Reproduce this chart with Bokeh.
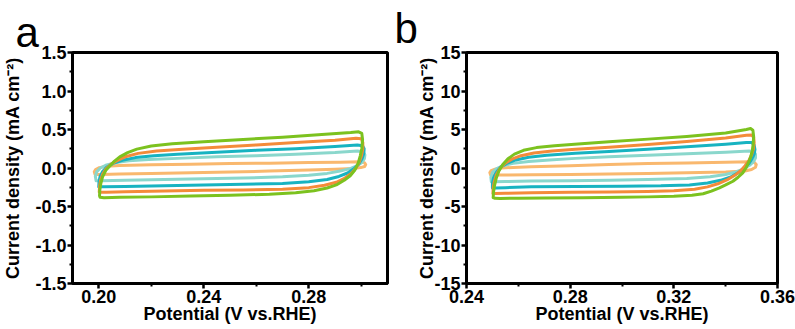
from bokeh.plotting import figure
from bokeh.layouts import row
from bokeh.models import FixedTicker, PrintfTickFormatter
from bokeh.embed import file_html
from bokeh.resources import INLINE

# ---------------- data: panel a ----------------
a_x_ticks = [0.20, 0.24, 0.28]
a_x_minor = [0.22, 0.26, 0.30]
a_y_ticks = [-1.5, -1.0, -0.5, 0.0, 0.5, 1.0, 1.5]
a_y_minor = [-1.25, -0.75, -0.25, 0.25, 0.75, 1.25]

a1_x = [0.1986, 0.1983, 0.1988, 0.2002, 0.2030, 0.2080, 0.2200, 0.2350, 0.2500, 0.2650, 0.2800, 0.2920, 0.2995, 0.3012,
        0.3017, 0.3013, 0.2998, 0.2970, 0.2900, 0.2800, 0.2650, 0.2500, 0.2350, 0.2200, 0.2080, 0.2010, 0.1986]
a1_y = [-0.085, -0.05, -0.02, 0.005, 0.022, 0.033, 0.042, 0.05, 0.057, 0.063, 0.07, 0.076, 0.08, 0.07,
        0.045, 0.02, 0.005, -0.005, -0.015, -0.025, -0.04, -0.052, -0.062, -0.07, -0.078, -0.083, -0.085]

a2_x = [0.1990, 0.1987, 0.1992, 0.2006, 0.2030, 0.2065, 0.2115, 0.2190, 0.2300, 0.2450, 0.2600, 0.2750, 0.2900, 0.2985,
        0.3007, 0.3014, 0.3012, 0.3002, 0.2985, 0.2960, 0.2920, 0.2870, 0.2800, 0.2700, 0.2550, 0.2400, 0.2250, 0.2100,
        0.2010, 0.1990]
a2_y = [-0.165, -0.11, -0.05, 0.0, 0.04, 0.07, 0.095, 0.11, 0.125, 0.145, 0.16, 0.18, 0.20, 0.22,
        0.21, 0.17, 0.12, 0.07, 0.03, -0.005, -0.04, -0.07, -0.095, -0.115, -0.13, -0.14, -0.15, -0.16,
        -0.165, -0.165]

a3_x = [0.2000, 0.2001, 0.2005, 0.2014, 0.2030, 0.2055, 0.2090, 0.2140, 0.2210, 0.2300, 0.2450, 0.2600, 0.2750, 0.2900,
        0.2985, 0.3005, 0.3011, 0.3010, 0.3003, 0.2990, 0.2972, 0.2948, 0.2915, 0.2870, 0.2800, 0.2700, 0.2550, 0.2400,
        0.2250, 0.2100, 0.2020, 0.2000]
a3_y = [-0.245, -0.18, -0.11, -0.05, 0.01, 0.06, 0.10, 0.135, 0.16, 0.18, 0.205, 0.23, 0.25, 0.28,
        0.30, 0.29, 0.25, 0.19, 0.12, 0.05, -0.01, -0.065, -0.11, -0.15, -0.18, -0.20, -0.21, -0.22,
        -0.23, -0.24, -0.245, -0.245]

a4_x = [0.2002, 0.2003, 0.2007, 0.2015, 0.2028, 0.2047, 0.2072, 0.2105, 0.2150, 0.2220, 0.2320, 0.2450, 0.2600, 0.2750,
        0.2900, 0.2980, 0.3000, 0.3006, 0.3006, 0.3001, 0.2993, 0.2980, 0.2962, 0.2938, 0.2905, 0.2860, 0.2800, 0.2700,
        0.2550, 0.2400, 0.2250, 0.2100, 0.2030, 0.2005, 0.2002]
a4_y = [-0.31, -0.24, -0.16, -0.08, -0.01, 0.05, 0.10, 0.15, 0.19, 0.22, 0.245, 0.27, 0.30, 0.33,
        0.36, 0.385, 0.38, 0.33, 0.25, 0.16, 0.08, 0.00, -0.07, -0.13, -0.185, -0.225, -0.255, -0.275,
        -0.285, -0.29, -0.30, -0.31, -0.315, -0.315, -0.31]

a5_x = [0.2003, 0.2004, 0.2008, 0.2015, 0.2027, 0.2043, 0.2060, 0.2080, 0.2110, 0.2145, 0.2200, 0.2280, 0.2400, 0.2550,
        0.2700, 0.2850, 0.2960, 0.2990, 0.3002, 0.3005, 0.3002, 0.2996, 0.2988, 0.2975, 0.2958, 0.2935, 0.2905, 0.2870,
        0.2820, 0.2750, 0.2650, 0.2500, 0.2350, 0.2200, 0.2080, 0.2020, 0.2005, 0.2003]
a5_y = [-0.36, -0.29, -0.20, -0.11, -0.03, 0.03, 0.09, 0.145, 0.20, 0.245, 0.285, 0.315, 0.34, 0.37,
        0.40, 0.435, 0.46, 0.47, 0.45, 0.37, 0.25, 0.155, 0.06, -0.03, -0.10, -0.16, -0.22, -0.26,
        -0.295, -0.32, -0.34, -0.355, -0.365, -0.375, -0.38, -0.385, -0.38, -0.36]

# ---------------- data: panel b ----------------
b_x_ticks = [0.24, 0.28, 0.32, 0.36]
b_x_minor = [0.26, 0.30, 0.34]
b_y_ticks = [-15, -10, -5, 0, 5, 10, 15]
b_y_minor = [-12.5, -7.5, -2.5, 2.5, 7.5, 12.5]

b1_x = [0.2493, 0.2490, 0.2495, 0.2510, 0.2535, 0.2580, 0.2650, 0.2800, 0.2950, 0.3100, 0.3250, 0.3400, 0.3490, 0.3510,
        0.3518, 0.3515, 0.3500, 0.3475, 0.3400, 0.3250, 0.3100, 0.2950, 0.2800, 0.2650, 0.2550, 0.2505, 0.2493]
b1_y = [-0.9, -0.6, -0.35, -0.15, 0.0, 0.08, 0.15, 0.3, 0.45, 0.57, 0.66, 0.74, 0.8, 0.75,
        0.45, 0.1, -0.2, -0.38, -0.52, -0.62, -0.7, -0.77, -0.85, -0.88, -0.9, -0.92, -0.9]

b2_x = [0.2496, 0.2494, 0.2500, 0.2515, 0.2540, 0.2580, 0.2640, 0.2720, 0.2820, 0.2950, 0.3100, 0.3250, 0.3400, 0.3490,
        0.3508, 0.3515, 0.3515, 0.3507, 0.3492, 0.3470, 0.3440, 0.3400, 0.3340, 0.3250, 0.3100, 0.2950, 0.2800, 0.2650,
        0.2550, 0.2505, 0.2496]
b2_y = [-1.8, -1.2, -0.6, -0.1, 0.3, 0.6, 0.85, 1.05, 1.25, 1.45, 1.65, 1.85, 2.05, 2.2,
        2.15, 1.8, 1.3, 0.8, 0.35, -0.1, -0.5, -0.85, -1.15, -1.35, -1.5, -1.6, -1.65, -1.7,
        -1.75, -1.8, -1.8]

b3_x = [0.2500, 0.2500, 0.2504, 0.2514, 0.2530, 0.2555, 0.2590, 0.2640, 0.2710, 0.2820, 0.2950, 0.3100, 0.3250, 0.3400,
        0.3480, 0.3500, 0.3510, 0.3513, 0.3510, 0.3502, 0.3490, 0.3472, 0.3450, 0.3420, 0.3380, 0.3330, 0.3260, 0.3150,
        0.3000, 0.2820, 0.2650, 0.2550, 0.2510, 0.2500]
b3_y = [-2.6, -2.0, -1.3, -0.6, 0.05, 0.6, 1.05, 1.4, 1.65, 1.9, 2.15, 2.45, 2.75, 3.1,
        3.3, 3.3, 3.0, 2.4, 1.8, 1.2, 0.6, 0.0, -0.6, -1.15, -1.6, -1.95, -2.2, -2.32,
        -2.36, -2.4, -2.45, -2.55, -2.6, -2.6]

b4_x = [0.2502, 0.2503, 0.2507, 0.2515, 0.2528, 0.2548, 0.2575, 0.2610, 0.2660, 0.2730, 0.2820, 0.2950, 0.3100, 0.3250,
        0.3400, 0.3480, 0.3500, 0.3508, 0.3510, 0.3507, 0.3500, 0.3490, 0.3475, 0.3458, 0.3435, 0.3405, 0.3370, 0.3330,
        0.3280, 0.3200, 0.3100, 0.2950, 0.2800, 0.2650, 0.2550, 0.2510, 0.2502]
b4_y = [-3.3, -2.6, -1.8, -0.9, -0.1, 0.6, 1.15, 1.6, 1.95, 2.2, 2.42, 2.7, 3.05, 3.45,
        3.9, 4.25, 4.3, 4.0, 3.3, 2.5, 1.7, 1.0, 0.3, -0.35, -0.95, -1.55, -2.05, -2.45,
        -2.75, -2.95, -3.05, -3.12, -3.15, -3.2, -3.28, -3.32, -3.3]

b5_x = [0.2503, 0.2504, 0.2508, 0.2515, 0.2525, 0.2540, 0.2560, 0.2585, 0.2620, 0.2670, 0.2740, 0.2830, 0.2950, 0.3100,
        0.3250, 0.3400, 0.3480, 0.3496, 0.3505, 0.3508, 0.3506, 0.3503, 0.3497, 0.3490, 0.3480, 0.3466, 0.3448, 0.3428,
        0.3400, 0.3376, 0.3345, 0.3313, 0.3270, 0.3200, 0.3100, 0.3000, 0.2850, 0.2700, 0.2600, 0.2530, 0.2510, 0.2503]
b5_y = [-3.85, -3.2, -2.3, -1.3, -0.4, 0.45, 1.2, 1.8, 2.3, 2.65, 2.9, 3.12, 3.4, 3.75,
        4.1, 4.55, 5.0, 5.12, 4.9, 4.1, 3.1, 2.3, 1.5, 0.85, 0.1, -0.64, -1.2, -1.72,
        -2.2, -2.57, -3.0, -3.35, -3.55, -3.68, -3.75, -3.8, -3.85, -3.88, -3.92, -3.95, -3.94, -3.85]

loop_colors = ["#F9B86E", "#8AD7CC", "#17B3C1", "#F48B3A", "#7CC21F"]
panel_letters = ["a", "b"]

FONT = "Liberation Sans"


def style(p, xt, xm, yt, ym, xfmt, yfmt, ylab_standoff, letter, letter_offset, letter_standoff):
    p.outline_line_color = "black"
    p.outline_line_width = 3
    p.xgrid.visible = False
    p.ygrid.visible = False
    p.background_fill_color = "white"
    p.border_fill_color = "white"
    p.xaxis.ticker = FixedTicker(ticks=xt, minor_ticks=xm)
    p.yaxis.ticker = FixedTicker(ticks=yt, minor_ticks=ym)
    p.xaxis.formatter = PrintfTickFormatter(format=xfmt)
    p.yaxis.formatter = PrintfTickFormatter(format=yfmt)
    for ax in (p.xaxis, p.yaxis):
        ax.axis_line_width = 3
        ax.axis_line_color = "black"
        ax.major_tick_in = 0
        ax.major_tick_out = 5
        ax.minor_tick_in = 0
        ax.minor_tick_out = 3
        ax.major_tick_line_width = 2.5
        ax.minor_tick_line_width = 2
        ax.major_label_text_font = FONT
        ax.major_label_text_font_style = "bold"
        ax.major_label_text_font_size = "18px"
        ax.major_label_text_color = "black"
        ax.axis_label_text_font = FONT
        ax.axis_label_text_font_style = "bold"
        ax.axis_label_text_font_size = "18px"
        ax.axis_label_text_color = "black"
        ax.major_label_standoff = 1
    p.xaxis.axis_label = "Potential (V vs.RHE)"
    p.yaxis.axis_label = "Current density (mA cm\u207b\u00b2)"
    p.xaxis.axis_label_standoff = -2
    p.yaxis.axis_label_standoff = ylab_standoff
    # panel letter as the figure title, pulled to the left of the frame
    p.title.text = letter
    p.title.align = "left"
    p.title.vertical_align = "top"
    p.title.offset = letter_offset
    p.title.standoff = letter_standoff
    p.title.text_font = FONT
    p.title.text_font_style = "normal"
    p.title.text_font_size = "42px"
    p.title.text_color = "black"


# ---------------- panel a ----------------
pa = figure(width=392, height=327, x_range=(0.19, 0.31), y_range=(-1.5, 1.5),
            output_backend="svg", toolbar_location=None,
            min_border_left=70, min_border_right=5, min_border_top=48, min_border_bottom=44)
style(pa, a_x_ticks, a_x_minor, a_y_ticks, a_y_minor, "%.2f", "%.1f", 9, panel_letters[0], -57, -10)
for xs, ys, c in zip([a1_x, a2_x, a3_x, a4_x, a5_x], [a1_y, a2_y, a3_y, a4_y, a5_y], loop_colors):
    pa.line(xs, ys, line_color=c, line_width=3, line_join="round", line_cap="round")

# ---------------- panel b ----------------
pb = figure(width=403, height=327, x_range=(0.24, 0.36), y_range=(-15, 15),
            output_backend="svg", toolbar_location=None,
            min_border_left=74, min_border_right=18, min_border_top=52, min_border_bottom=42)
style(pb, b_x_ticks, b_x_minor, b_y_ticks, b_y_minor, "%.2f", "%d", -6, panel_letters[1], -72, -2)
for xs, ys, c in zip([b1_x, b2_x, b3_x, b4_x, b5_x], [b1_y, b2_y, b3_y, b4_y, b5_y], loop_colors):
    pb.line(xs, ys, line_color=c, line_width=3, line_join="round", line_cap="round")

layout = row(pa, pb)
open("out.html", "w").write(file_html(layout, INLINE))
